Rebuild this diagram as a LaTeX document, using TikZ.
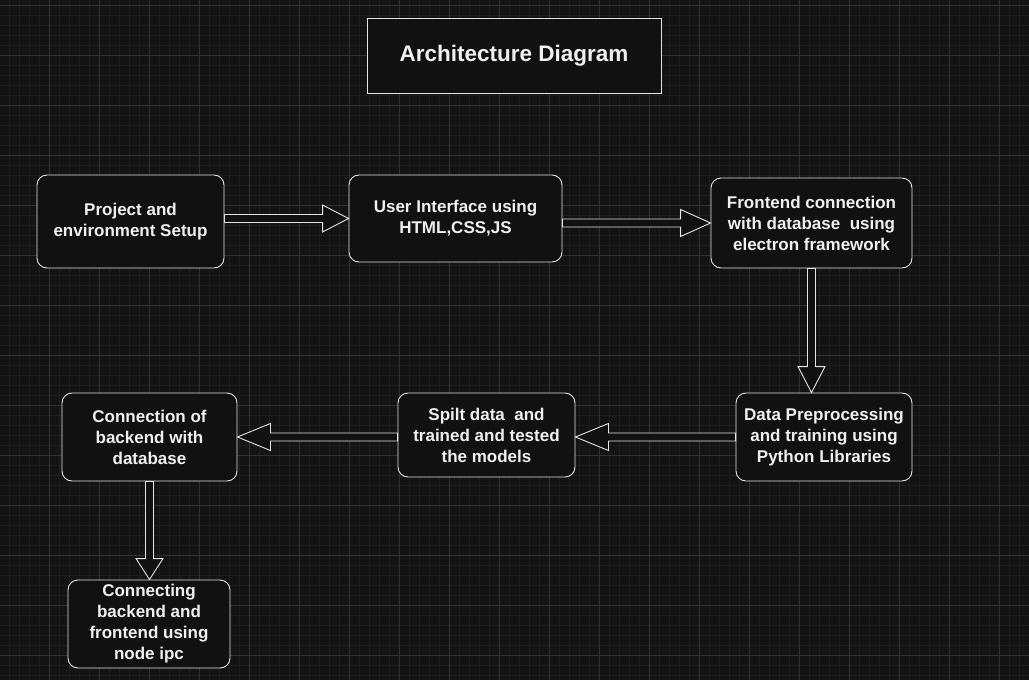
\documentclass[tikz,border=0pt]{standalone}
\usepackage{fontspec}
\setmainfont{Liberation Sans}
\usetikzlibrary{calc}
\definecolor{canvas}{RGB}{19,19,19}
\definecolor{minorline}{RGB}{29,29,29}
\definecolor{majorline}{RGB}{48,48,48}
\definecolor{boxfill}{RGB}{17,17,17}
\definecolor{edge}{RGB}{228,228,228}
\definecolor{ink}{RGB}{240,240,240}
\tikzset{
  head/.store in=\headlen, head=26pt,
  hollow/.style={draw=edge, fill=boxfill, line width=0.9pt, line join=miter,
    to path={let \p1=($(\tikztotarget)!\headlen!(\tikztostart)$) in
      ($(\tikztostart)!4pt!90:(\tikztotarget)$) -- ($(\p1)!4pt!90:(\tikztotarget)$)
      -- ($(\p1)!13.5pt!90:(\tikztotarget)$) -- (\tikztotarget)
      -- ($(\p1)!13.5pt!-90:(\tikztotarget)$) -- ($(\p1)!4pt!-90:(\tikztotarget)$)
      -- ($(\tikztostart)!4pt!-90:(\tikztotarget)$) -- cycle}}
}
\begin{document}
\begin{tikzpicture}[x=1pt,y=-1pt]
\tikzstyle{every node}+=[draw=edge, fill=boxfill, text=ink, line width=0.9pt, align=center,
  font=\fontsize{17}{21}\selectfont\bfseries]
\tikzstyle{box}=[rounded corners=10pt]

\useasboundingbox (0,0) rectangle (1029,680);
\fill[canvas] (0,0) rectangle (1029,680);
\foreach \x in {9.5,19.5,...,1029} \draw[minorline, line width=0.6pt] (\x,0) -- (\x,680);
\foreach \y in {5,15,...,680} \draw[minorline, line width=0.6pt] (0,\y) -- (1029,\y);
\foreach \x in {49.5,99.5,...,1029} \draw[majorline, line width=0.8pt] (\x,0) -- (\x,680);
\foreach \y in {5,55,...,680} \draw[majorline, line width=0.8pt] (0,\y) -- (1029,\y);

\node (title) at (514,55.5) [minimum width=294pt, minimum height=75pt,
  font=\fontsize{22.5}{26}\selectfont\bfseries] {Architecture Diagram};

\node (setup)    at (130.5,221.5) [box, minimum width=187pt, minimum height=93pt] {Project and\\environment Setup};
\node (ui)       at (455.5,218.5) [box, minimum width=213pt, minimum height=87pt] {User Interface using\\HTML,CSS,JS};
\node (frontend) at (811.5,223)   [box, minimum width=201pt, minimum height=90pt] {Frontend connection\\with database\ \ using\\electron framework};
\node (prep)     at (824,437)     [box, minimum width=176pt, minimum height=88pt] {Data Preprocessing\\and training using\\Python Libraries};
\node (split)    at (486.5,435)   [box, minimum width=177pt, minimum height=84pt] {Spilt data\ \ and\\trained and tested\\the models};
\node (backend)  at (149.5,437)   [box, minimum width=175pt, minimum height=88pt] {Connection of\\backend with\\database};
\node (ipc)      at (149,624)     [box, minimum width=162pt, minimum height=88pt] {Connecting\\backend and\\frontend using\\node ipc};

\draw[hollow] (setup.east |- ui.west) to (ui.west);
\draw[hollow, head=30pt] (ui.east |- frontend.west) to (frontend.west);
\draw[hollow] (frontend.south) to (frontend.south |- prep.north);
\draw[hollow, head=33pt] (prep.west) to (prep.west -| split.east);
\draw[hollow, head=33pt] (split.west |- backend.east) to (backend.east);
\draw[hollow, head=21pt] (backend.south) to (backend.south |- ipc.north);
\end{tikzpicture}
\end{document}
